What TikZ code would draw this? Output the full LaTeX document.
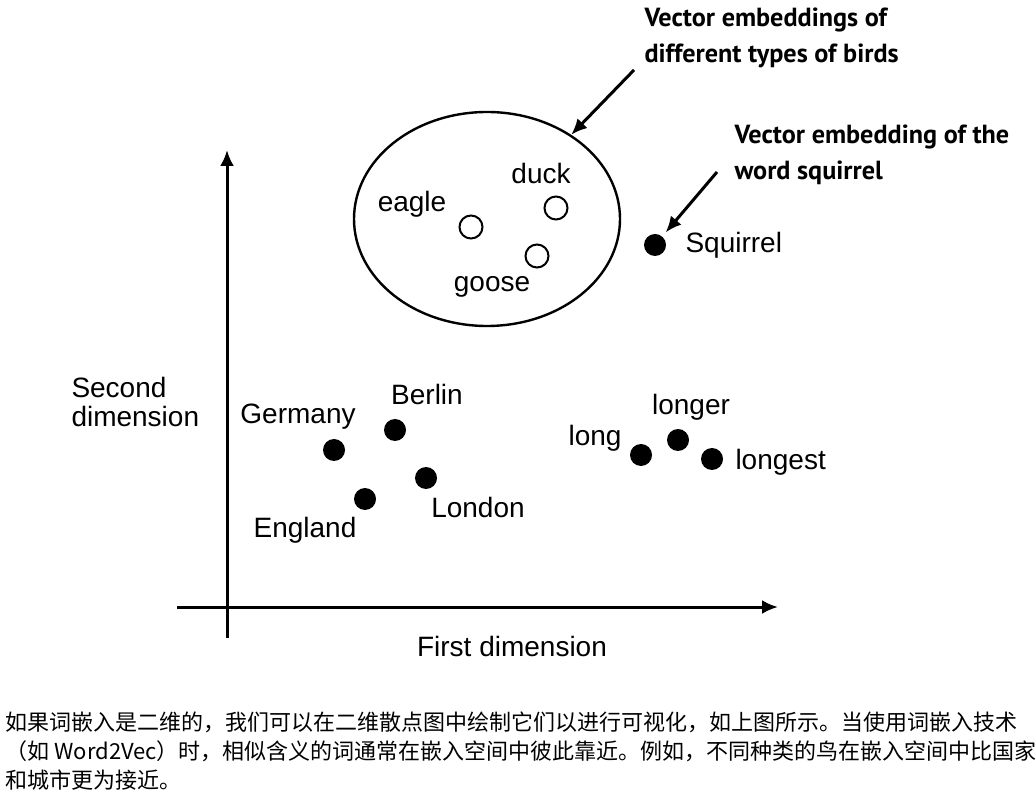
\documentclass[tikz,border=0pt]{standalone}
\usepackage{fontspec}
\setmainfont{Liberation Sans}
\newfontfamily\notefont{PT Sans}
\newfontfamily\cjk{Noto Sans CJK SC}
\usetikzlibrary{arrows.meta,positioning,shapes.geometric}

\begin{document}
\begin{tikzpicture}[x=0.5pt, y=0.5pt, >={Latex[length=8pt,width=7pt]}, line width=1.5pt,
    dot/.style={circle, fill, inner sep=0pt, minimum size=11pt},
    hollow/.style={circle, draw, line width=1pt, inner sep=0pt, minimum size=11.5pt},
    lbl/.style={font=\fontsize{14}{14.5}\selectfont, inner sep=0pt},
    note/.style={font=\notefont\bfseries\fontsize{13.1}{18}\selectfont, align=left, inner sep=0pt}]
    \fill[white] (0,0) rectangle (1036,792);
    \useasboundingbox (0,0) rectangle (1036,792);

    % axes
    \coordinate (ybot) at (227,154);
    \coordinate (ytop) at (227,642);
    \coordinate (xleft) at (177,185);
    \coordinate (xright) at (778,185);
    \draw[->] (ybot) -- (ytop);
    \draw[->] (xleft) -- (xright);
    \node[lbl, anchor=north west, align=left] (ylabel) at (70,416) {Second\\dimension};
    \node[lbl, anchor=base] (xlabel) at (512,136) {First dimension};

    % birds
    \node[ellipse, draw, line width=1.2pt, inner sep=0pt, minimum width=133pt, minimum height=107pt] (birds) at (487,573) {};
    \foreach \n/\x/\y in {eagle/471/565, duck/556/584, goose/537/536} {
        \node[hollow] (\n) at (\x,\y) {};
    }

    % filled points
    \foreach \n/\x/\y in {germany/334/342, berlin/395/362, london/426/314, england/365/293,
                          long/641/337, longer/678/352, longest/712/333, squirrel/655/547} {
        \node[dot] (\n) at (\x,\y) {};
    }

    % labels
    \foreach \n/\t/\x/\y in {eagle/eagle/412/580, duck/duck/541/608, goose/goose/492/500,
                             germany/Germany/298/368, berlin/Berlin/427/387, london/London/478/275,
                             england/England/305/255, long/long/595/346, longer/longer/691/377} {
        \node[lbl, anchor=base] (\n-lbl) at (\x,\y) {\t};
    }
    \node[lbl, anchor=base west] (longest-lbl) at (734,322) {longest};
    \node[lbl, anchor=base west] (squirrel-lbl) at (684,539) {Squirrel};

    % notes
    \node[note, anchor=west] (birdtext) at (643,754) {Vector embeddings of\\different types of birds};
    \node[note, anchor=west] (sqtext) at (733,637) {Vector embedding of the\\word squirrel};
    \coordinate (birdnote) at (634,722);
    \coordinate (sqnote) at (717,620);
    \draw[->] (birdnote) -- (birds.45);
    \draw[->, shorten >=2pt] (sqnote) -- (squirrel);

    % caption
    \node[anchor=north west, align=left, inner sep=0pt, font=\cjk\fontsize{11}{14.5}\selectfont] (caption) at (4,82)
        {如果词嵌入是二维的，我们可以在二维散点图中绘制它们以进行可视化，如上图所示。当使用词嵌入技术\\
         （如 Word2Vec）时，相似含义的词通常在嵌入空间中彼此靠近。例如，不同种类的鸟在嵌入空间中比国家\\
         和城市更为接近。};
\end{tikzpicture}
\end{document}
